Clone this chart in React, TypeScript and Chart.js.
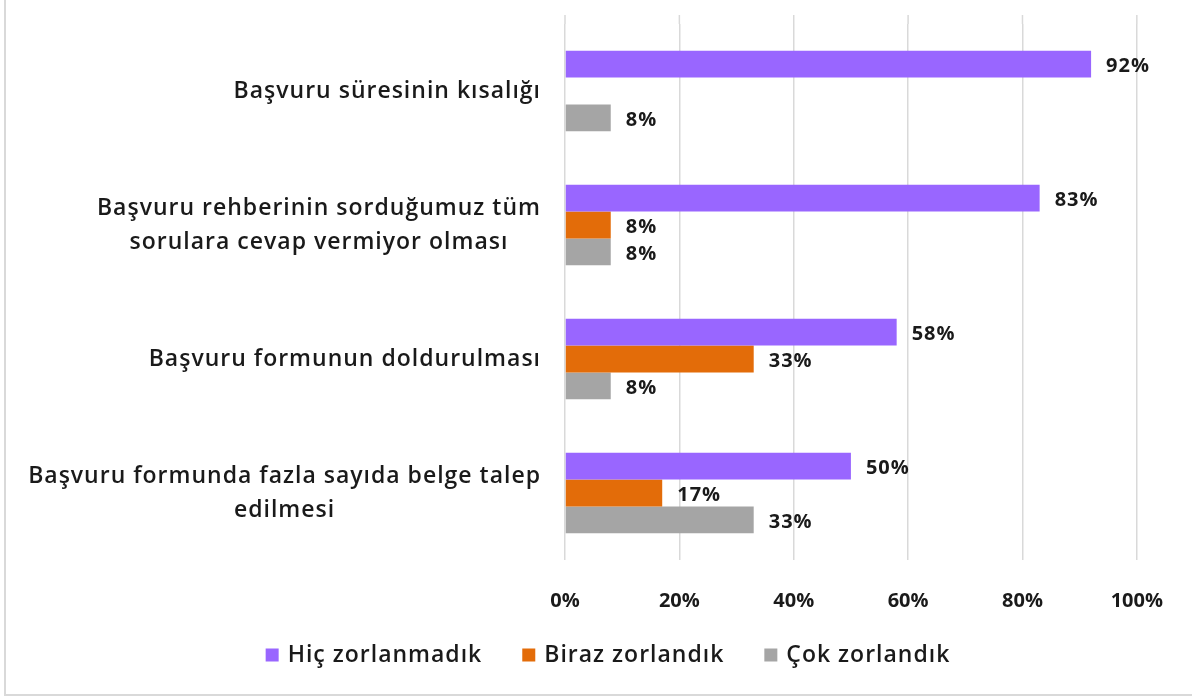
import React, { useEffect, useRef } from "react";
import { Chart, registerables } from "chart.js";

Chart.register(...registerables);

const categoryLines: string[][] = [
  ["Başvuru süresinin kısalığı"],
  ["Başvuru rehberinin sorduğumuz tüm", "sorulara cevap vermiyor olması"],
  ["Başvuru formunun doldurulması"],
  ["Başvuru formunda fazla sayıda belge talep", "edilmesi"],
];
const categories: string[] = categoryLines.map((l) => l.join(" "));

const seriesNames: string[] = ["Hiç zorlanmadık", "Biraz zorlandık", "Çok zorlandık"];
const hicValues: number[] = [92, 83, 58, 50];
const birazValues: number[] = [0, 8, 33, 17];
const cokValues: number[] = [8, 8, 8, 33];
const seriesColors: string[] = ["#9966FF", "#E36C09", "#A5A5A5"];
const xTicks: number[] = [0, 20, 40, 60, 80, 100];

const FONT = "'Open Sans', Lato, sans-serif";
const TEXT_COLOR = "#1a1a1a";

export default function App() {
  const ref = useRef<HTMLCanvasElement | null>(null);
  useEffect(() => {
    if (!ref.current) return;
    const gridExtend = {
      id: "gridExtend",
      beforeDatasetsDraw(chart: any) {
        const ctx = chart.ctx;
        const xs = chart.scales.x;
        ctx.save();
        ctx.strokeStyle = "#d9d9d9";
        ctx.lineWidth = 1.5;
        xs.ticks.forEach((t: any) => {
          const x = xs.getPixelForValue(t.value);
          ctx.beginPath();
          ctx.moveTo(x, 15);
          ctx.lineTo(x, chart.chartArea.top);
          ctx.stroke();
        });
        ctx.restore();
      },
    };
    const labelPlugin = {
      id: "customLabels",
      afterDraw(chart: any) {
        const ctx = chart.ctx;
        const yScale = chart.scales.y;
        ctx.save();
        // category labels
        ctx.font = `600 23px ${FONT}`;
        (ctx as any).letterSpacing = "1px";
        ctx.fillStyle = TEXT_COLOR;
        ctx.textBaseline = "middle";
        ctx.textAlign = "left";
        const rightX = 541;
        const lh = 34;
        categoryLines.forEach((lines, i) => {
          const yc = yScale.getPixelForValue(i);
          const widths = lines.map((l) => ctx.measureText(l).width);
          const w = Math.max(...widths);
          const cx = rightX - w / 2;
          lines.forEach((line, j) => {
            ctx.fillText(line, cx - widths[j] / 2, yc + (j - (lines.length - 1) / 2) * lh);
          });
        });
        // data labels
        ctx.font = `bold 20px ${FONT}`;
        (ctx as any).letterSpacing = "1px";
        chart.data.datasets.forEach((ds: any, di: number) => {
          const meta = chart.getDatasetMeta(di);
          meta.data.forEach((bar: any, i: number) => {
            const v = ds.data[i];
            if (!v) return;
            ctx.fillText(`${v}%`, bar.x + 15, bar.y + 2);
          });
        });
        // legend
        ctx.font = `600 23px ${FONT}`;
        (ctx as any).letterSpacing = "1px";
        const box = 13;
        const boxGap = 9;
        const itemGap = 40;
        const items = chart.data.datasets.map((ds: any) => ({
          text: ds.label,
          color: ds.backgroundColor,
          w: ctx.measureText(ds.label).width,
        }));
        const total =
          items.reduce((s: number, it: any) => s + box + boxGap + it.w, 0) + itemGap * (items.length - 1);
        let x = 608 - total / 2;
        const ly = 655;
        items.forEach((it: any) => {
          ctx.fillStyle = it.color;
          ctx.fillRect(x, ly - box / 2, box, box);
          ctx.fillStyle = TEXT_COLOR;
          ctx.fillText(it.text, x + box + boxGap, ly);
          x += box + boxGap + it.w + itemGap;
        });
        ctx.restore();
      },
    };
    const chart = new Chart(ref.current, {
      type: "bar",
      data: {
        labels: categories,
        datasets: [
          { label: seriesNames[0], data: hicValues, backgroundColor: seriesColors[0] },
          { label: seriesNames[1], data: birazValues, backgroundColor: seriesColors[1] },
          { label: seriesNames[2], data: cokValues, backgroundColor: seriesColors[2] },
        ],
      },
      options: {
        indexAxis: "y",
        responsive: false,
        animation: false,
        maintainAspectRatio: false,
        categoryPercentage: 0.6,
        barPercentage: 1.0,
        layout: { padding: { left: 0, right: 23, top: 24, bottom: 57 } },
        scales: {
          x: {
            min: 0,
            max: 100,
            afterBuildTicks: (scale: any) => {
              scale.ticks = xTicks.map((v) => ({ value: v }));
            },
            ticks: {
              callback: (v: any) => `${v}%`,
              font: { family: FONT, size: 20, weight: "bold" },
              color: TEXT_COLOR,
              padding: 29,
            },
            grid: { color: "#d9d9d9", lineWidth: 1.5, drawTicks: false },
            border: { display: false },
          },
          y: {
            afterFit: (scale: any) => {
              scale.width = 565;
            },
            ticks: { display: false },
            grid: { display: false },
            border: { display: false },
          },
        },
        plugins: {
          legend: { display: false },
          tooltip: { enabled: false },
        },
      },
      plugins: [gridExtend, labelPlugin],
    } as any);
    return () => chart.destroy();
  }, []);
  return (
    <div style={{ position: "fixed", left: 0, top: 0, width: 1192, height: 699, background: "#fff" }}>
      <div
        style={{
          position: "absolute",
          left: 4,
          top: -10,
          width: 1200,
          height: 706,
          border: "2px solid #d9d9d9",
          boxSizing: "border-box",
        }}
      />
      <canvas ref={ref} width={1192} height={699} style={{ position: "absolute", left: 0, top: 0 }} />
    </div>
  );
}
